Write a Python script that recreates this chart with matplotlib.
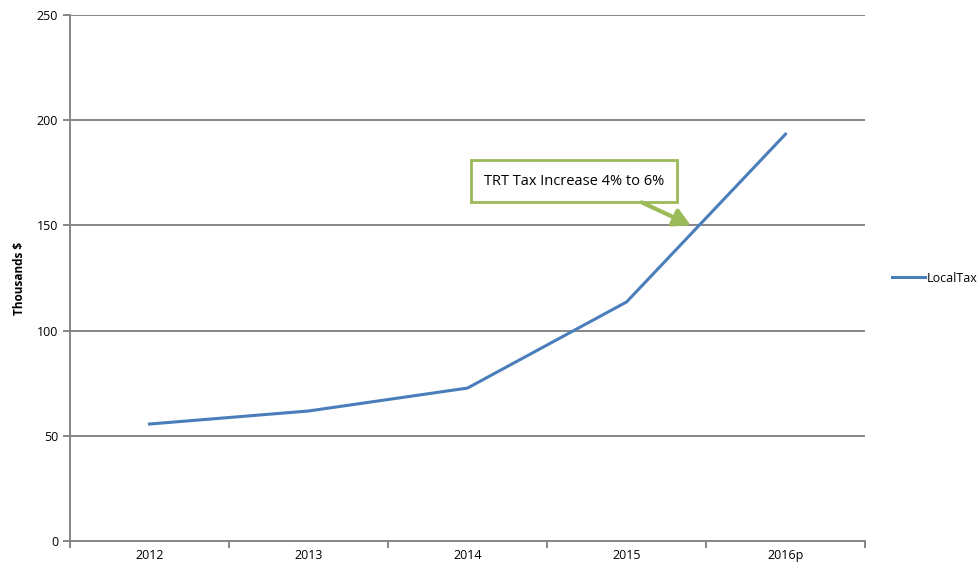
import matplotlib.pyplot as plt
import numpy as np

# Data
years = ['2012', '2013', '2014', '2015', '2016p']
local_tax = [55.6, 61.8, 72.7, 113.6, 193.4]
y_ticks = [0, 50, 100, 150, 200, 250]

grid_col = '#868686'
line_col = '#4A7EBB'
green = '#9BBB59'

plt.rcParams['font.family'] = ['Open Sans', 'DejaVu Sans']

fig = plt.figure(figsize=(9.79, 5.71), dpi=100)
ax = fig.add_axes([0.0715, 0.0525, 0.8121, 0.9212])

x = np.arange(len(years))
ax.plot(x, local_tax, color=line_col, linewidth=2.2, label='LocalTax', zorder=3)

ax.set_xlim(-0.5, len(years) - 0.5)
ax.set_ylim(0, 250)
ax.set_yticks(y_ticks)
ax.yaxis.grid(True, color=grid_col, linewidth=1.4)
ax.set_axisbelow(True)

# category labels centred, tick marks between categories
ax.set_xticks(np.arange(-0.5, len(years)))
ax.set_xticklabels([])
ax.set_xticks(x, minor=True)
ax.set_xticklabels(years, minor=True, fontsize=9)
ax.tick_params(axis='x', which='minor', length=0, pad=6)
ax.tick_params(axis='x', which='major', length=5, width=1.4, color=grid_col)
ax.tick_params(axis='y', length=5, width=1.4, color=grid_col, labelsize=9)

for side in ['top', 'right']:
    ax.spines[side].set_visible(False)
for side in ['left', 'bottom']:
    ax.spines[side].set_color(grid_col)
    ax.spines[side].set_linewidth(1.4)

ax.set_ylabel('Thousands $', fontsize=8.5, fontweight='bold', labelpad=8)

# Callout
ax.text(2.67, 171.1, 'TRT Tax Increase 4% to 6%', fontsize=10.5, ha='center', va='center',
        bbox=dict(boxstyle='square,pad=0.9', fc='white', ec=green, lw=2), zorder=4)
ax.annotate('', xy=(3.42, 149.5), xytext=(3.08, 161.5),
            arrowprops=dict(arrowstyle='-|>,head_length=1.0,head_width=0.55',
                            color=green, lw=3), zorder=4)

ax.legend(loc='center left', bbox_to_anchor=(1.02, 0.5), frameon=False,
          fontsize=9, handlelength=2.6, handletextpad=0.2)

fig.savefig('out.png', dpi=100)
